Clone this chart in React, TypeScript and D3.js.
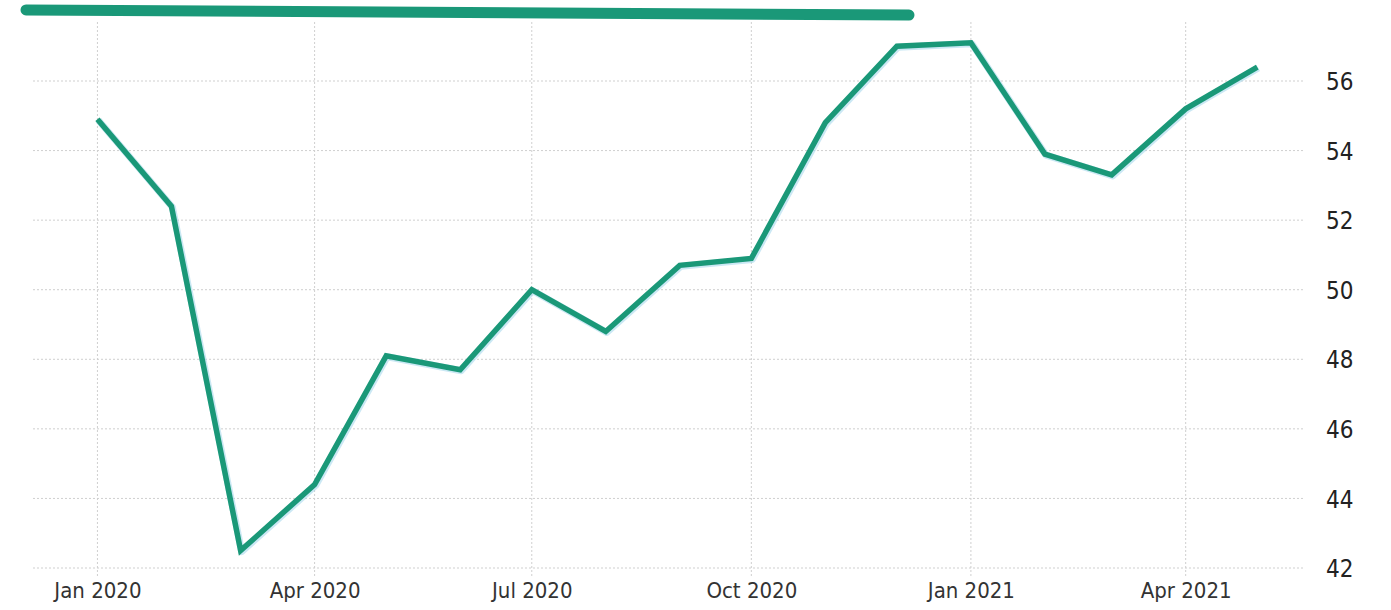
import React from 'react';
import { axisBottom, axisRight, line, scaleLinear, scaleTime, select, timeMonth } from 'd3';

// monthly index readings, Jan 2020 .. May 2021
const months: string[] = [
    '2020-01', '2020-02', '2020-03', '2020-04', '2020-05', '2020-06',
    '2020-07', '2020-08', '2020-09', '2020-10', '2020-11', '2020-12',
    '2021-01', '2021-02', '2021-03', '2021-04', '2021-05'
];
const values: number[] = [
    54.9, 52.4, 42.5, 44.4, 48.1, 47.7,
    50.0, 48.8, 50.7, 50.9, 54.8, 57.0,
    57.1, 53.9, 53.3, 55.2, 56.4
];
const yTicks: number[] = [42, 44, 46, 48, 50, 52, 54, 56];
const xTickLabels: string[] = ['Jan 2020', 'Apr 2020', 'Jul 2020', 'Oct 2020', 'Jan 2021', 'Apr 2021'];

const WIDTH = 1391;
const HEIGHT = 610;
const GREEN = '#1a9878';
const X_FONT = '"DejaVu Sans Condensed", "DejaVu Sans", sans-serif';
const Y_FONT = '"Liberation Sans Narrow", "DejaVu Sans Condensed", sans-serif';

const parseMonth = (s: string) => {
    const [y, m] = s.split('-').map(Number);
    return new Date(y, m - 1, 1);
};

const App = () => {
    const svgRef = React.useRef<SVGSVGElement | null>(null);

    React.useEffect(() => {
        const svg = select(svgRef.current);
        svg.selectAll('*').remove();

        const left = 33;
        const right = 1305;
        const top = 22;
        const bottom = 576;

        const x = scaleTime()
            .domain([new Date(2019, 11, 5), new Date(2021, 4, 21)])
            .range([left, right]);
        const y = scaleLinear().domain([42, 56]).range([568, 81]);

        const data = months.map((m, i) => ({ date: parseMonth(m), value: values[i] }));
        const tickDates = timeMonth.every(3)!.range(new Date(2020, 0, 1), new Date(2021, 4, 2));

        // decorative bar above the plot
        svg.append('line')
            .attr('x1', 26).attr('y1', 10)
            .attr('x2', 909).attr('y2', 15)
            .attr('stroke', GREEN)
            .attr('stroke-width', 11)
            .attr('stroke-linecap', 'round');

        // Grid
        const grid = svg.append('g').attr('class', 'grid');
        grid.selectAll('.hgrid')
            .data(yTicks)
            .enter()
            .append('line')
            .attr('x1', left).attr('x2', right)
            .attr('y1', (d) => y(d)).attr('y2', (d) => y(d))
            .attr('stroke', '#cfcfcf')
            .attr('stroke-width', 1)
            .attr('stroke-dasharray', '2,2');
        grid.selectAll('.vgrid')
            .data(tickDates)
            .enter()
            .append('line')
            .attr('x1', (d) => x(d)).attr('x2', (d) => x(d))
            .attr('y1', top).attr('y2', bottom)
            .attr('stroke', '#cfcfcf')
            .attr('stroke-width', 1)
            .attr('stroke-dasharray', '2,2');

        // X Axis
        const xAxis = axisBottom(x)
            .tickValues(tickDates)
            .tickSize(0)
            .tickPadding(0)
            .tickFormat((_d, i) => xTickLabels[i]);
        const xg = svg.append('g')
            .attr('transform', `translate(0, ${598})`)
            .call(xAxis);
        xg.select('.domain').remove();
        xg.selectAll('text')
            .attr('y', 0)
            .attr('dy', 0)
            .attr('fill', '#333')
            .style('font-family', X_FONT)
            .style('font-size', '22px');

        // Y Axis
        const yAxis = axisRight(y).tickValues(yTicks).tickSize(0).tickPadding(0);
        const yg = svg.append('g')
            .attr('transform', 'translate(1326, 0)')
            .call(yAxis);
        yg.select('.domain').remove();
        yg.selectAll('text')
            .attr('x', 0)
            .attr('dy', '0.36em')
            .attr('fill', '#222')
            .style('font-family', Y_FONT)
            .style('font-size', '24px');

        // Line
        const path = line<{ date: Date; value: number }>()
            .x((d) => x(d.date))
            .y((d) => y(d.value));

        svg.append('path')
            .datum(data)
            .attr('fill', 'none')
            .attr('stroke', '#a8d8ec')
            .attr('stroke-width', 7)
            .attr('stroke-opacity', 0.6)
            .attr('stroke-linejoin', 'round')
            .attr('transform', 'translate(1, 1)')
            .attr('d', path);
        svg.append('path')
            .datum(data)
            .attr('fill', 'none')
            .attr('stroke', GREEN)
            .attr('stroke-width', 5.5)
            .attr('stroke-linejoin', 'miter')
            .attr('d', path);
    }, []);

    return (
        <svg
            ref={svgRef}
            width={WIDTH}
            height={HEIGHT}
            style={{ position: 'absolute', left: 0, top: 0, background: '#fff' }}
        />
    );
};

export default App;
